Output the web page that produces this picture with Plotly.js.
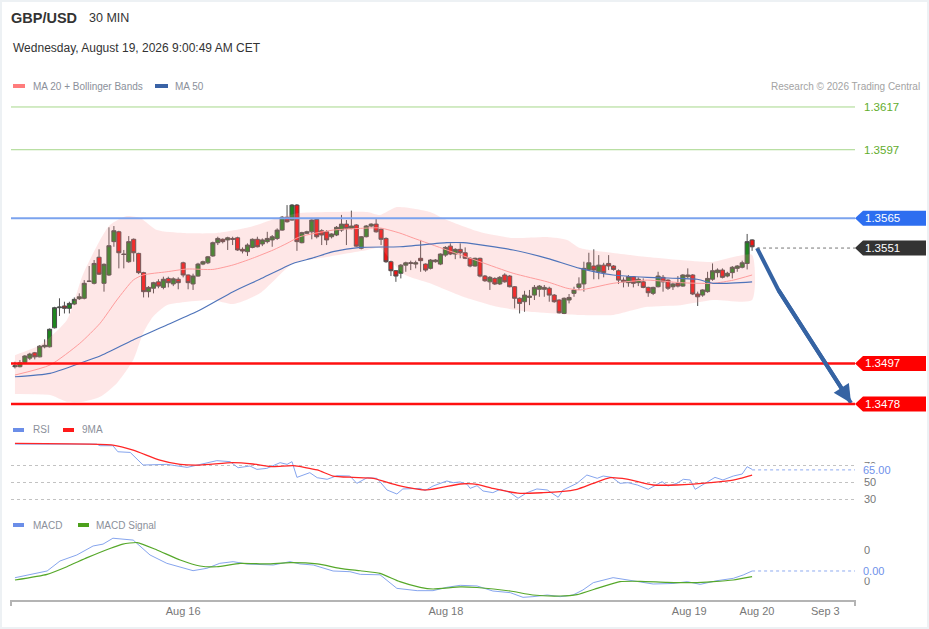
<!DOCTYPE html>
<html>
<head>
<meta charset="utf-8">
<script src="https://cdn.plot.ly/plotly-3.0.1.min.js"></script>
<style>
html,body{margin:0;padding:0;background:#fff;}
#chart{width:929px;height:629px;}
#frame{position:absolute;left:0;top:0;width:929px;height:629px;box-sizing:border-box;border:2px solid #edf1f4;pointer-events:none;}
</style>
</head>
<body>
<div id="chart"></div>
<div id="frame"></div>
<script>
// ---------- DATA (30-min candles, GBP/USD) ----------
const opens = [
1.34955,1.34955,1.34975,1.34995,1.35020,1.35001,1.35048,1.35048,1.35137,1.35231,
1.35239,1.35228,1.35248,1.35273,1.35275,1.35354,1.35345,1.35467,1.35345,1.35384,
1.35540,1.35586,1.35482,1.35446,1.35551,1.35485,1.35395,1.35306,1.35322,1.35352,
1.35326,1.35368,1.35342,1.35364,1.35441,1.35384,1.35342,1.35379,1.35435,1.35441,
1.35473,1.35535,1.35551,1.35548,1.35555,1.35558,1.35504,1.35493,1.35513,1.35551,
1.35529,1.35540,1.35548,1.35555,1.35594,1.35654,1.35641,1.35711,1.35535,1.35579,
1.35586,1.35644,1.35591,1.35586,1.35563,1.35571,1.35594,1.35622,1.35602,1.35618,
1.35509,1.35563,1.35613,1.35622,1.35598,1.35555,1.35446,1.35404,1.35392,1.35430,
1.35438,1.35435,1.35462,1.35435,1.35415,1.35446,1.35435,1.35477,1.35519,1.35482,
1.35504,1.35488,1.35462,1.35426,1.35462,1.35379,1.35352,1.35368,1.35342,1.35384,
1.35379,1.35329,1.35275,1.35259,1.35279,1.35290,1.35317,1.35317,1.35322,1.35290,
1.35267,1.35204,1.35267,1.35298,1.35326,1.35342,1.35410,1.35426,1.35399,1.35430,
1.35438,1.35426,1.35404,1.35360,1.35348,1.35376,1.35348,1.35352,1.35326,1.35298,
1.35329,1.35373,1.35360,1.35329,1.35345,1.35332,1.35376,1.35384,1.35295,1.35290,
1.35306,1.35364,1.35395,1.35407,1.35379,1.35395,1.35415,1.35420,1.35438,1.35548];
const highs = [
1.34978,1.34986,1.35009,1.35020,1.35024,1.35056,1.35083,1.35134,1.35235,1.35275,
1.35259,1.35259,1.35279,1.35298,1.35360,1.35426,1.35454,1.35504,1.35438,1.35607,
1.35613,1.35591,1.35501,1.35566,1.35555,1.35488,1.35399,1.35332,1.35352,1.35364,
1.35376,1.35376,1.35373,1.35373,1.35446,1.35386,1.35390,1.35441,1.35451,1.35473,
1.35540,1.35563,1.35555,1.35563,1.35563,1.35563,1.35513,1.35532,1.35555,1.35563,
1.35555,1.35586,1.35571,1.35602,1.35660,1.35711,1.35716,1.35716,1.35586,1.35591,
1.35644,1.35649,1.35598,1.35594,1.35579,1.35613,1.35665,1.35641,1.35685,1.35622,
1.35566,1.35618,1.35626,1.35649,1.35602,1.35560,1.35451,1.35407,1.35435,1.35446,
1.35451,1.35451,1.35548,1.35438,1.35458,1.35458,1.35485,1.35519,1.35532,1.35509,
1.35532,1.35513,1.35467,1.35465,1.35465,1.35384,1.35379,1.35373,1.35379,1.35392,
1.35384,1.35332,1.35279,1.35310,1.35314,1.35337,1.35337,1.35337,1.35329,1.35295,
1.35270,1.35279,1.35295,1.35329,1.35373,1.35446,1.35488,1.35504,1.35477,1.35441,
1.35477,1.35430,1.35410,1.35373,1.35384,1.35379,1.35373,1.35368,1.35329,1.35329,
1.35399,1.35384,1.35364,1.35348,1.35379,1.35388,1.35415,1.35388,1.35306,1.35317,
1.35399,1.35438,1.35415,1.35415,1.35399,1.35426,1.35430,1.35451,1.35576,1.35551];
const lows = [
1.34947,1.34952,1.34971,1.34986,1.34989,1.34999,1.35041,1.35045,1.35134,1.35192,
1.35204,1.35204,1.35243,1.35267,1.35270,1.35351,1.35340,1.35384,1.35306,1.35379,
1.35516,1.35415,1.35415,1.35441,1.35446,1.35388,1.35279,1.35279,1.35298,1.35322,
1.35317,1.35326,1.35332,1.35317,1.35373,1.35317,1.35314,1.35376,1.35430,1.35435,
1.35469,1.35524,1.35532,1.35501,1.35524,1.35497,1.35485,1.35473,1.35509,1.35513,
1.35519,1.35532,1.35516,1.35548,1.35591,1.35629,1.35638,1.35497,1.35532,1.35576,
1.35551,1.35555,1.35524,1.35524,1.35555,1.35566,1.35586,1.35524,1.35598,1.35516,
1.35504,1.35560,1.35607,1.35582,1.35524,1.35441,1.35379,1.35352,1.35368,1.35399,
1.35407,1.35415,1.35399,1.35399,1.35410,1.35442,1.35430,1.35469,1.35477,1.35458,
1.35462,1.35458,1.35420,1.35423,1.35373,1.35352,1.35314,1.35337,1.35337,1.35348,
1.35326,1.35228,1.35204,1.35212,1.35243,1.35267,1.35282,1.35282,1.35259,1.35254,
1.35204,1.35201,1.35251,1.35282,1.35314,1.35306,1.35404,1.35364,1.35364,1.35373,
1.35407,1.35404,1.35342,1.35326,1.35329,1.35326,1.35332,1.35322,1.35282,1.35290,
1.35326,1.35306,1.35314,1.35314,1.35326,1.35329,1.35368,1.35290,1.35239,1.35282,
1.35301,1.35357,1.35373,1.35368,1.35373,1.35368,1.35399,1.35415,1.35410,1.35497];
const closes = [
1.34959,1.34973,1.35005,1.35014,1.35001,1.35051,1.35055,1.35130,1.35231,1.35234,
1.35228,1.35251,1.35270,1.35282,1.35345,1.35355,1.35438,1.35388,1.35434,1.35521,
1.35591,1.35488,1.35480,1.35540,1.35488,1.35395,1.35306,1.35326,1.35348,1.35332,
1.35364,1.35348,1.35366,1.35348,1.35384,1.35348,1.35379,1.35435,1.35446,1.35469,
1.35535,1.35555,1.35540,1.35558,1.35551,1.35501,1.35496,1.35524,1.35551,1.35516,
1.35548,1.35555,1.35563,1.35594,1.35654,1.35633,1.35711,1.35540,1.35582,1.35586,
1.35641,1.35563,1.35571,1.35548,1.35576,1.35607,1.35622,1.35602,1.35613,1.35519,
1.35563,1.35613,1.35622,1.35586,1.35551,1.35446,1.35404,1.35379,1.35430,1.35441,
1.35441,1.35441,1.35451,1.35407,1.35454,1.35454,1.35482,1.35513,1.35482,1.35504,
1.35488,1.35462,1.35426,1.35462,1.35379,1.35357,1.35373,1.35342,1.35373,1.35352,
1.35329,1.35275,1.35251,1.35290,1.35285,1.35326,1.35332,1.35326,1.35290,1.35259,
1.35207,1.35275,1.35279,1.35314,1.35342,1.35415,1.35441,1.35407,1.35430,1.35395,
1.35426,1.35410,1.35360,1.35352,1.35376,1.35345,1.35364,1.35326,1.35301,1.35326,
1.35379,1.35352,1.35322,1.35342,1.35332,1.35384,1.35384,1.35295,1.35282,1.35314,
1.35368,1.35404,1.35407,1.35373,1.35392,1.35420,1.35426,1.35441,1.35540,1.35516];

// Moving averages and Bollinger bands (candle position -> price)
const ma20Idx = [0,7.1,13.1,17.2,20.6,23.9,25.9,30.7,34.8,40,44.1,48,52.2,55,57.6,64.3,69.8,73.8,77.8,80.5,87.3,94,100.7,107.6,111.6,114.2,120.9,127.8,134.5,141.1,145.2,149];
const ma20Val = [1.34916,1.34963,1.35064,1.35158,1.35267,1.35360,1.35384,1.35399,1.35412,1.35410,1.35431,1.35462,1.35501,1.35532,1.35563,1.35594,1.35602,1.35604,1.35580,1.35557,1.35501,1.35446,1.35392,1.35352,1.35322,1.35314,1.35345,1.35360,1.35348,1.35345,1.35360,1.35384];
const ma50Idx = [0,7.1,13.1,17.2,23.9,30.7,37.4,44.1,49.5,56.2,60.1,64.3,69.8,77.8,87.3,90.6,100.7,107.6,114.2,120.9,127.8,134.5,137.9,141.1,149];
const ma50Val = [1.34908,1.34924,1.34971,1.35005,1.35080,1.35150,1.35220,1.35306,1.35364,1.35438,1.35463,1.35493,1.35513,1.35516,1.35535,1.35535,1.35501,1.35462,1.35415,1.35384,1.35373,1.35368,1.35364,1.35345,1.35352];
const bbUpIdx = [0,5.1,10.5,13.7,17.2,19.2,22.6,25.3,28.7,34,40.8,47.5,53,57.6,64.3,71.2,73.8,77.2,83.9,87.3,94,100.7,107.6,111.6,114.2,120.9,127.8,134.5,141.1,145.2,149];
const bbUpVal = [1.35009,1.35056,1.35173,1.35384,1.35548,1.35618,1.35660,1.35651,1.35594,1.35580,1.35580,1.35608,1.35651,1.35674,1.35679,1.35679,1.35665,1.35702,1.35679,1.35641,1.35585,1.35557,1.35562,1.35548,1.35510,1.35487,1.35468,1.35454,1.35445,1.35468,1.35478];
const bbLoIdx = [0,7.1,10.5,13.7,17.2,20.6,23.9,25.9,27.9,30.7,34.8,40,44.1,49.5,56.2,61.7,71.2,73.8,76.2,78.9,83.9,90.6,97.5,104.1,114.2,120.9,127.8,134.5,141.1,149];
const bbLoVal = [1.34827,1.34822,1.34791,1.34791,1.34814,1.34878,1.34986,1.35112,1.35189,1.35243,1.35259,1.35267,1.35248,1.35298,1.35438,1.35463,1.35501,1.35510,1.35445,1.35384,1.35345,1.35282,1.35235,1.35212,1.35197,1.35197,1.35235,1.35243,1.35267,1.35267];

// RSI and its 9-period MA
const rsiIdx = [0,16.5,17.2,19.8,20.8,23.3,25.9,30.7,34.8,37.4,40.8,43.5,45.1,47.5,48.9,50.9,53.6,55,56,57,59.6,61.1,63.1,65.1,67.7,69.1,71.2,73.2,75.2,77.2,78.4,81.9,82.9,84.5,87.3,88.6,90,91.4,92,93.4,94.6,96.6,98.1,100.1,101.7,103.5,105.5,107.6,109.8,110.8,113.6,115.6,117.7,118.9,120.7,122.3,123.9,125.8,128,130.8,132,133.8,135.1,136.5,137.5,139.5,141.5,143.1,145.2,147,148,149];
const rsiVal = [95.7,95.7,93.8,93.8,86.6,85.8,70.8,71.6,68,71.6,76,74.8,67.6,69.6,65.6,66.8,73.6,71.6,74.8,56.1,61.7,55.7,53.8,58.1,57.7,49,55.7,54.9,41.1,36.3,42.3,43,40.3,45.8,51.8,49.8,50.6,47.8,43,46.2,39.9,37.9,41.9,37.9,31.2,37.9,42.3,41.1,32.4,41.1,49,58.9,55,57.7,56.1,49,49.8,47,41.9,51,45.8,49,53.8,53,41.9,49,56.1,53,57.7,60.1,68.8,65.6];
const rsiMaIdx = [0,19.8,23.9,29.3,33.4,37.4,44.1,48.1,52.2,56.2,61.1,64.3,68.3,72.4,77.2,83.3,90,93.4,96.6,102.1,106.8,110.2,113.6,116.9,120.3,123.7,129,133.8,137.1,140.5,144,146.6,149];
const rsiMaVal = [96.5,94.5,88.6,76.7,71.6,70.8,73.6,72,68.8,70,64.9,57.7,56.1,55,47,41.1,48.2,47.8,43,37.1,37.9,39.1,41.9,49,55.7,54,47,47,48,49.8,51.8,55,58.9];

// MACD and signal
const macdIdx = [0,3.6,6.5,9.1,12.5,15.8,17.8,19.8,21.8,23.9,27.3,30.7,36,38.8,41.4,44.1,46.9,52.2,55.6,57.6,60.3,64.3,67.7,69.8,73.8,77.2,81.3,84.5,87.3,90,93.4,96.6,100.1,102.7,104.7,107.6,110.2,112.8,114.8,116.9,120.9,124.9,129,133,135.9,138.5,141.9,145.2,147.2,149];
const macdVal = [0.000106,0.000226,0.000323,0.000645,0.000839,0.00113,0.00119,0.00138,0.00135,0.00132,0.000839,0.00057,0.000333,0.00041,0.00057,0.000624,0.000548,0.000516,0.000624,0.00055,0.000516,0.000323,0.0003,0.000215,0.0002,-0.000237,-0.000312,-0.000312,-0.000204,-0.00014,-0.00016,-0.000323,-0.000376,-0.000527,-0.000505,-0.000452,-0.000505,-0.000452,-0.00029,-0.000054,0.000108,0.00001,-0.000097,-0.00008,-0.000022,-0.000108,0.00001,0.000086,0.000194,0.000323];
const sigIdx = [0,6.5,10.5,14.6,19.2,21.8,24.7,28.7,33.4,37.4,40.8,45.5,50.9,55.6,61.1,65.7,69.8,73.8,77.8,81.9,84.5,90,93.4,100.1,104.7,110.2,113.6,118.3,122.3,126.4,131.8,137.1,141.1,145.2,149];
const sigVal = [0.000032,0.000215,0.000462,0.000753,0.00105,0.00119,0.00124,0.001,0.000677,0.000484,0.00046,0.00057,0.00055,0.00059,0.00055,0.00041,0.00033,0.000248,-0.000022,-0.000204,-0.000258,-0.00019,-0.00021,-0.000323,-0.000452,-0.000484,-0.00044,-0.000204,-0.000022,-0.00001,-0.000043,-0.000054,-0.000022,0.000032,0.00014];

// Key levels
const resistLevels = [1.3617, 1.3597];
const pivotLevel = 1.3565;
const lastPrice = 1.3551;
const supportLevels = [1.3497, 1.3478];

// Forecast arrow path (candle position, price)
const arrowX = [150, 154.3, 169];
const arrowY = [1.3551, 1.35314, 1.34785];

// Time axis
const tickPos = [34, 87.1, 136.3, 150, 163.8];
const tickLabels = ['Aug 16', 'Aug 18', 'Aug 19', 'Aug 20', 'Sep 3'];

// RSI / MACD last values
const rsiLast = 65.00;
const macdLast = 0.000323;

// ---------- LAYOUT HELPERS ----------
const FONT = 'Liberation Sans, Arial, sans-serif';
const W = 929, Hh = 629;
const PL = 11, PR = 855, PT = 95, PB = 600;
const fx = p => (p - PL) / (PR - PL);
const fy = p => (PB - p) / (PB - PT);
const mainDom = [fy(415), 1];
const rsiDom = [fy(505), fy(440)];
const macdDom = [0, fy(535)];
const priceRange = [1.34729, 1.36226];
const rsiRange = [23.2, 100.6];
const macdRange = [-0.000613, 0.001484];
const xRange = [-0.8, 169.8];
const p2paper = p => mainDom[0] + (p - priceRange[0]) / (priceRange[1] - priceRange[0]) * (mainDom[1] - mainDom[0]);

const idx = opens.map((_, i) => i);

const traces = [
  { // Bollinger band fill
    x: bbUpIdx.concat(bbLoIdx.slice().reverse()),
    y: bbUpVal.concat(bbLoVal.slice().reverse()),
    type: 'scatter', mode: 'lines', fill: 'toself',
    fillcolor: 'rgba(250,140,140,0.21)', line: {width: 0, shape: 'spline', smoothing: 0.6},
    hoverinfo: 'skip', xaxis: 'x', yaxis: 'y'
  },
  { x: ma20Idx, y: ma20Val, type: 'scatter', mode: 'lines',
    line: {color: '#ff9c9c', width: 1, shape: 'spline', smoothing: 0.6}, xaxis: 'x', yaxis: 'y' },
  { x: ma50Idx, y: ma50Val, type: 'scatter', mode: 'lines',
    line: {color: '#4f74ba', width: 1.2, shape: 'spline', smoothing: 0.6}, xaxis: 'x', yaxis: 'y' },
  { x: idx, open: opens, high: highs, low: lows, close: closes, type: 'candlestick',
    increasing: {line: {color: '#4d4d4d', width: 1}, fillcolor: '#1f861f'},
    decreasing: {line: {color: '#4d4d4d', width: 1}, fillcolor: '#f01414'},
    whiskerwidth: 0, xaxis: 'x', yaxis: 'y', hoverinfo: 'skip' },
  { x: arrowX, y: arrowY, type: 'scatter', mode: 'lines',
    line: {color: '#3563a3', width: 4}, xaxis: 'x', yaxis: 'y' },
  // RSI
  { x: rsiIdx, y: rsiVal, type: 'scatter', mode: 'lines',
    line: {color: '#86a5ee', width: 1}, xaxis: 'x', yaxis: 'y2' },
  { x: rsiMaIdx, y: rsiMaVal, type: 'scatter', mode: 'lines',
    line: {color: '#ff2626', width: 1.3, shape: 'spline', smoothing: 0.5}, xaxis: 'x', yaxis: 'y2' },
  // MACD
  { x: macdIdx, y: macdVal, type: 'scatter', mode: 'lines',
    line: {color: '#86a5ee', width: 1}, xaxis: 'x', yaxis: 'y3' },
  { x: sigIdx, y: sigVal, type: 'scatter', mode: 'lines',
    line: {color: '#56a82a', width: 1.2, shape: 'spline', smoothing: 0.5}, xaxis: 'x', yaxis: 'y3' }
];

const shapes = [];
const ann = [];

// level lines
resistLevels.forEach(v => shapes.push({type: 'line', xref: 'paper', yref: 'y', x0: 0, x1: 1, y0: v, y1: v, line: {color: '#a6d78a', width: 1}}));
shapes.push({type: 'line', xref: 'paper', yref: 'y', x0: 0, x1: 1, y0: pivotLevel, y1: pivotLevel, line: {color: '#7ba3ee', width: 2}});
supportLevels.forEach(v => shapes.push({type: 'line', xref: 'paper', yref: 'y', x0: 0, x1: 1, y0: v, y1: v, line: {color: '#ff1010', width: 2.5}}));
shapes.push({type: 'line', xref: 'x', yref: 'y', x0: arrowX[0], x1: xRange[1], y0: lastPrice, y1: lastPrice, line: {color: '#777', width: 1, dash: 'dot'}});

// extension lines for RSI/MACD last values
shapes.push({type: 'line', xref: 'x', yref: 'y2', x0: 149, x1: xRange[1], y0: rsiLast, y1: rsiLast, line: {color: '#8eaaf0', width: 1, dash: 'dot'}});
shapes.push({type: 'line', xref: 'x', yref: 'y3', x0: 149, x1: xRange[1], y0: macdLast, y1: macdLast, line: {color: '#8eaaf0', width: 1, dash: 'dot'}});

// axis end ticks
[0, 1].forEach(xp => shapes.push({type: 'line', xref: 'paper', yref: 'paper', x0: xp, x1: xp, y0: fy(600), y1: fy(606), line: {color: '#b4b4b4', width: 2}}));

// level price tags
function tag(level, color) {
  const yc = p2paper(level), h = 7.5 / (PB - PT);
  const xt = fx(855), xl = fx(863), xr = fx(926);
  shapes.push({type: 'path', xref: 'paper', yref: 'paper',
    path: `M ${xt},${yc} L ${xl},${yc + h} L ${xr},${yc + h} L ${xr},${yc - h} L ${xl},${yc - h} Z`,
    fillcolor: color, line: {width: 0}});
  ann.push({text: level.toFixed(4), xref: 'paper', yref: 'y', x: fx(863), y: level, xanchor: 'left', yanchor: 'middle',
    showarrow: false, font: {family: FONT, size: 11.5, color: '#ffffff'}});
}
tag(pivotLevel, '#2d6ef0');
tag(lastPrice, '#333333');
supportLevels.forEach(v => tag(v, '#ff0000'));
resistLevels.forEach(v => ann.push({text: v.toFixed(4), xref: 'paper', yref: 'y', x: fx(862), y: v, xanchor: 'left', yanchor: 'middle',
  showarrow: false, font: {family: FONT, size: 11.5, color: '#62ad2c'}}));

// RSI / MACD value labels
ann.push({text: rsiLast.toFixed(2), xref: 'paper', yref: 'y2', x: fx(862), y: rsiLast, xanchor: 'left', yanchor: 'middle',
  showarrow: false, bgcolor: '#ffffff', borderpad: 0, font: {family: FONT, size: 11, color: '#6f91ea'}});
ann.push({text: (macdLast * 0).toFixed(2), xref: 'paper', yref: 'y3', x: fx(862), y: macdLast, xanchor: 'left', yanchor: 'middle',
  showarrow: false, bgcolor: '#ffffff', borderpad: 0, font: {family: FONT, size: 11, color: '#6f91ea'}});

// forecast arrow head segment
ann.push({x: arrowX[2], y: arrowY[2], ax: arrowX[1], ay: arrowY[1], xref: 'x', yref: 'y', axref: 'x', ayref: 'y',
  text: '', font: {size: 1}, borderpad: 0, showarrow: true, arrowhead: 2, arrowsize: 0.9, arrowwidth: 4, arrowcolor: '#3563a3'});

// header & legends
function txt(text, x, y, size, color, extra) {
  ann.push(Object.assign({text, xref: 'paper', yref: 'paper', x: fx(x), y: fy(y), xanchor: 'left', yanchor: 'middle',
    showarrow: false, font: {family: FONT, size, color}}, extra || {}));
}
function swatch(x0, x1, y, color) {
  shapes.push({type: 'rect', xref: 'paper', yref: 'paper', x0: fx(x0), x1: fx(x1), y0: fy(y + 2), y1: fy(y - 2), fillcolor: color, line: {width: 0}});
}
txt('<b>GBP/USD</b>', 9, 18, 14.5, '#333333');
txt('30 MIN', 87, 18, 12.5, '#333333');
txt('Wednesday, August 19, 2026 9:00:49 AM CET', 11, 48, 12, '#333333');
swatch(13, 25, 86, '#ff7c7c');
txt('MA 20 + Bollinger Bands', 31, 86, 10, '#8b909a');
swatch(155, 168, 86, '#3a63a6');
txt('MA 50', 173, 86, 10, '#8b909a');
txt('Research © 2026 Trading Central', 922, 86, 10, '#a3a3a3', {xanchor: 'right'});
swatch(13, 24, 430, '#6b8ee8');
txt('RSI', 31, 430, 10, '#8b909a');
swatch(63, 74, 430, '#ff1a1a');
txt('9MA', 80, 430, 10, '#8b909a');
swatch(13, 24, 525, '#6b8ee8');
txt('MACD', 31, 525, 10, '#8b909a');
swatch(78, 89, 525, '#4ca01c');
txt('MACD Signal', 94, 525, 10, '#8b909a');

const layout = {
  width: W, height: Hh,
  margin: {l: PL, r: W - PR, t: PT, b: Hh - PB, pad: 0},
  paper_bgcolor: '#ffffff', plot_bgcolor: '#ffffff',
  showlegend: false, hovermode: false,
  boxgap: 0.18, boxgroupgap: 0,
  font: {family: FONT, size: 11, color: '#777'},
  xaxis: {domain: [0, 1], anchor: 'y3', range: xRange, tickvals: tickPos, ticktext: tickLabels,
    showline: true, linecolor: '#b4b4b4', linewidth: 2, ticks: '', showgrid: false, zeroline: false,
    tickfont: {family: FONT, size: 11, color: '#777'}, rangeslider: {visible: false}, fixedrange: true},
  yaxis: {domain: mainDom, range: priceRange, visible: false, showgrid: false, zeroline: false, fixedrange: true},
  yaxis2: {domain: rsiDom, range: rsiRange, anchor: 'x', side: 'right', tickvals: [30, 50, 70],
    showgrid: true, gridcolor: '#c2c2c2', griddash: 'dot', gridwidth: 1, zeroline: false, showline: false, ticks: '',
    ticklabelstandoff: 8, tickfont: {family: FONT, size: 11, color: '#777'}, fixedrange: true},
  yaxis3: {domain: macdDom, range: macdRange, anchor: 'x', side: 'right', tickvals: [0.001, 0], ticktext: ['0', '0'],
    showgrid: false, zeroline: false, showline: false, ticks: '', ticklabelstandoff: 8,
    tickfont: {family: FONT, size: 11, color: '#777'}, fixedrange: true},
  shapes: shapes,
  annotations: ann
};

Plotly.newPlot('chart', traces, layout, {displayModeBar: false, staticPlot: true});
</script>
</body>
</html>
